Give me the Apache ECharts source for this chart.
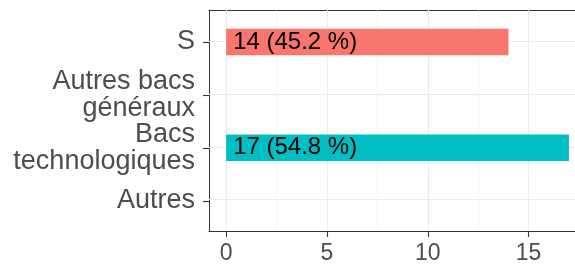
<!DOCTYPE html>
<html>
<head>
<meta charset="utf-8">
<script src="https://cdn.jsdelivr.net/npm/echarts@6/dist/echarts.min.js"></script>
<style>html,body{margin:0;padding:0;background:#fff}#c{width:575px;height:265px}</style>
</head>
<body>
<div id="c"></div>
<script>
var categories = ['S', 'Autres bacs\ngénéraux', 'Bacs\ntechnologiques', 'Autres'];
var counts = [14, null, 17, null];
var barLabels = ['14 (45.2 %)', '', '17 (54.8 %)', ''];
var barColors = ['#F8766D', '#F8766D', '#00BFC4', '#00BFC4'];
var xTicks = [0, 5, 10, 15];
var xMinor = [2.5, 7.5, 12.5];
// the panel runs past the right edge of the picture; this is the value at the visible edge
var xMin = -0.85, xMax = 17.3;

var FONT = '"Liberation Sans", Arial, sans-serif';
var chart = echarts.init(document.getElementById('c'), null, {renderer: 'canvas'});

var vLines = [];
xMinor.forEach(function (v) { vLines.push({xAxis: v, lineStyle: {color: '#EBEBEB', width: 0.55, type: 'solid'}}); });
xTicks.forEach(function (v) { vLines.push({xAxis: v, lineStyle: {color: '#EBEBEB', width: 1.1, type: 'solid'}}); });
categories.forEach(function (c, i) { vLines.push({yAxis: i + 1, lineStyle: {color: '#EBEBEB', width: 1.1, type: 'solid'}}); });

var axisLineStyle = {color: '#333333', width: 1};

chart.setOption({
  animation: false,
  textStyle: {fontFamily: FONT},
  grid: [
    {left: 209, top: 10, right: 0, bottom: 33, show: false, containLabel: false},
    {left: 209, top: 15.55, right: 0, bottom: 37.75, show: false, containLabel: false}
  ],
  xAxis: [
    {gridIndex: 0, type: 'value', min: xMin, max: xMax, position: 'bottom',
     axisLine: {show: true, onZero: false, lineStyle: axisLineStyle},
     axisTick: {show: true, customValues: xTicks, length: 6, lineStyle: {color: '#333333', width: 1.1}},
     axisLabel: {show: true, customValues: xTicks, fontSize: 23, color: '#4D4D4D', margin: 11, fontFamily: FONT},
     splitLine: {show: false}},
    {gridIndex: 1, type: 'value', min: xMin, max: xMax, show: false, splitLine: {show: false}},
    {gridIndex: 0, type: 'value', min: xMin, max: xMax, position: 'top',
     axisLine: {show: true, onZero: false, lineStyle: axisLineStyle},
     axisTick: {show: false}, axisLabel: {show: false}, splitLine: {show: false}}
  ],
  yAxis: [
    {gridIndex: 0, type: 'value', min: 0.4, max: 4.6, inverse: true,
     axisLine: {show: true, onZero: false, lineStyle: axisLineStyle},
     axisTick: {show: false}, axisLabel: {show: false}, splitLine: {show: false}},
    {gridIndex: 1, type: 'category', inverse: true, data: categories,
     axisLine: {show: false, onZero: false},
     axisTick: {show: true, alignWithLabel: true, length: 6, lineStyle: {color: '#333333', width: 1.1}},
     axisLabel: {fontSize: 27, color: '#4D4D4D', margin: 14, lineHeight: 27, align: 'right', fontFamily: FONT},
     splitLine: {show: false}}
  ],
  series: [
    {type: 'scatter', xAxisIndex: 0, yAxisIndex: 0, data: [], z: 1, silent: true,
     markLine: {silent: true, symbol: ['none', 'none'], label: {show: false}, z: 1, animation: false, data: vLines}},
    {type: 'bar', xAxisIndex: 1, yAxisIndex: 1, z: 10, barWidth: 26.5,
     data: counts.map(function (v, i) { return {value: v, itemStyle: {color: barColors[i]}}; }),
     label: {show: true, position: 'insideLeft', distance: 7, fontSize: 24, color: '#000000', fontFamily: FONT,
       formatter: function (p) { return barLabels[p.dataIndex]; }}}
  ]
});
</script>
</body>
</html>
